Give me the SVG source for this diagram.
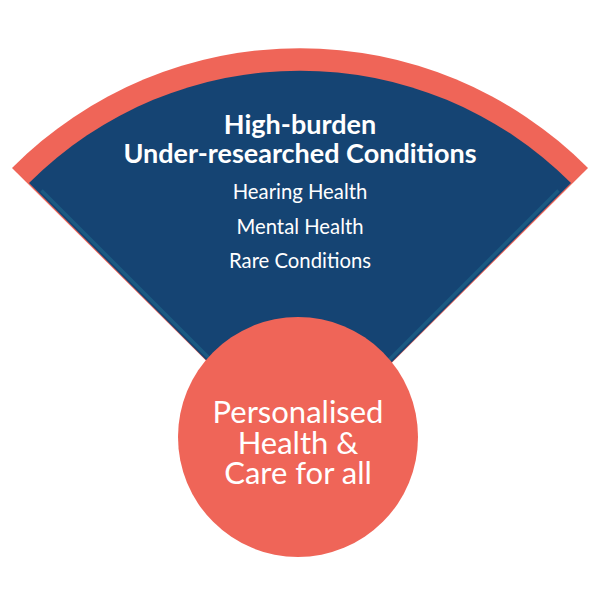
<svg xmlns="http://www.w3.org/2000/svg" width="600" height="600" viewBox="0 0 600 600">
<style>
.t{font-family:Lato,"Open Sans","Liberation Sans",sans-serif;fill:#ffffff;text-anchor:middle}
.title{font-size:27px;font-weight:bold}
.item{font-size:20.3px}
.big{font-size:31px}
</style>
<rect width="600" height="600" fill="#ffffff"/>
<g id="fan">
<path d="M300 454 L12 168 A406 406 0 0 1 588 168 Z" fill="#ef6558"/>
<path d="M300 454 L29 183 A383 383 0 0 1 571 183 Z" fill="#154473"/>
<path d="M41.5 190.5 L251.5 400.5" stroke="#1b5a82" stroke-width="3.5" fill="none"/>
<path d="M558.5 190.5 L348.5 400.5" stroke="#1b5a82" stroke-width="3.5" fill="none"/>
<text class="t title" x="300" y="134">High-burden</text>
<text class="t title" x="300" y="163">Under-researched Conditions</text>
<text class="t item" x="300" y="199">Hearing Health</text>
<text class="t item" x="300" y="234">Mental Health</text>
<text class="t item" x="300" y="268">Rare Conditions</text>
</g>
<g id="connectors"></g>
<g id="core">
<circle cx="298" cy="437" r="120" fill="#ef6558"/>
<text class="t big" x="298" y="423">Personalised</text>
<text class="t big" x="298" y="454">Health &amp;</text>
<text class="t big" x="298" y="484">Care for all</text>
</g>
</svg>
